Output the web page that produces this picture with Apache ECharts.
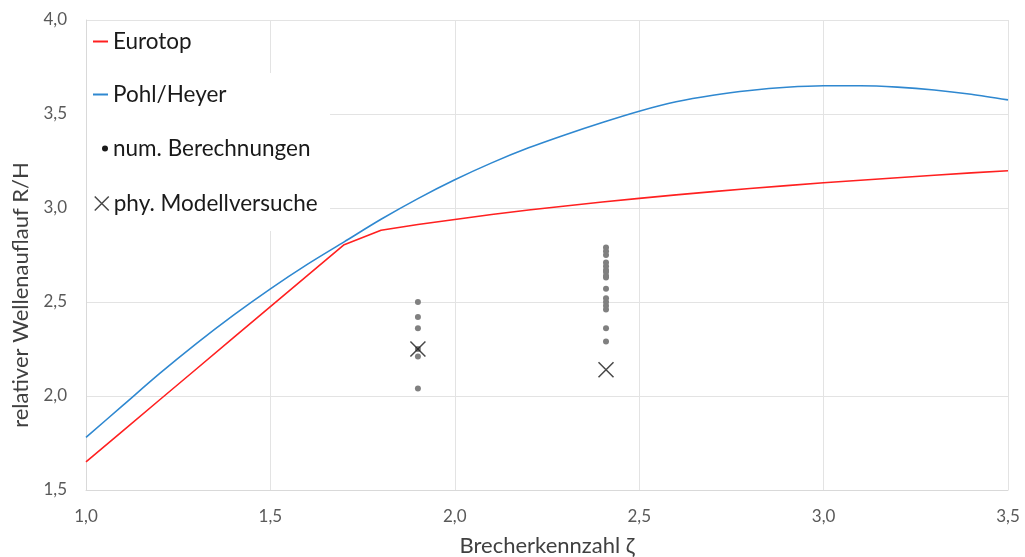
<!DOCTYPE html>
<html>
<head>
<meta charset="utf-8">
<script src="https://cdn.jsdelivr.net/npm/echarts@6/dist/echarts.min.js"></script>
<style>
html,body{margin:0;padding:0;background:#fff;}
#chart{width:1025px;height:557px;}
</style>
</head>
<body>
<div id="chart"></div>
<script>
// ---- data ----
const xiValues = [1.0,1.1,1.2,1.3,1.4,1.5,1.6,1.7,1.8,1.9,2.0,2.1,2.2,2.3,2.4,2.5,2.6,2.7,2.8,2.9,3.0,3.1,3.2,3.3,3.4,3.5];
const eurotop = [1.65,1.815,1.98,2.145,2.31,2.475,2.64,2.805,2.882,2.912,2.939,2.965,2.989,3.011,3.032,3.051,3.070,3.087,3.104,3.119,3.134,3.148,3.161,3.174,3.187,3.198];
const pohlHeyer = [1.78,1.95,2.12,2.28,2.43,2.57,2.70,2.82,2.94,3.05,3.15,3.24,3.32,3.39,3.455,3.515,3.565,3.60,3.625,3.642,3.65,3.65,3.643,3.628,3.605,3.575];
const numX = [1.9,1.9,1.9,1.9,1.9,1.9,
              2.41,2.41,2.41,2.41,2.41,2.41,2.41,2.41,2.41,2.41,2.41,2.41,2.41,2.41,2.41,2.41];
const numY = [2.50,2.42,2.36,2.25,2.21,2.04,
              2.79,2.77,2.75,2.71,2.69,2.67,2.66,2.64,2.63,2.57,2.52,2.50,2.48,2.46,2.36,2.29];
const modX = [1.9,2.41];
const modY = [2.25,2.14];
const xTicks = ['1,0','1,5','2,0','2,5','3,0','3,5'];
const seriesNames = ['Eurotop','Pohl/Heyer','num. Berechnungen','phy. Modellversuche'];

const FONT = 'Lato, "Open Sans", sans-serif';
const crossPath = 'path://M0,0L10,10M0,10L10,0';
const pair = (xs, ys) => xs.map((x, i) => [x, ys[i]]);
const fmt = v => v.toFixed(1).replace('.', ',');

const legendText = {fontFamily: FONT, fontSize: 22.5, color: '#1a1a1a'};
function legendFor(name, left, top, w, h, icon, style) {
  const item = {name: name};
  if (icon) item.icon = icon;
  if (style) item.itemStyle = style;
  return {
    data: [item], left: left, top: top, orient: 'vertical', padding: 0,
    itemWidth: w, itemHeight: h, textStyle: legendText, selectedMode: false
  };
}

const chart = echarts.init(document.getElementById('chart'));
chart.setOption({
  animation: false,
  backgroundColor: '#ffffff',
  grid: {left: 86, right: 17, top: 20, bottom: 67, containLabel: false, outerBoundsMode: 'none'},
  graphic: [{
    type: 'rect', z: 1, silent: true,
    shape: {x: 87, y: 73, width: 243, height: 158},
    style: {fill: '#ffffff'}
  }],
  legend: [
    legendFor(seriesNames[0], 93, 30, 15, 2, 'rect', {color: '#ff2020'}),
    legendFor(seriesNames[1], 93, 83, 15, 2, 'rect', {color: '#2f88d0'}),
    legendFor(seriesNames[2], 102, 137, 6, 6, 'circle', {color: '#1a1a1a'}),
    legendFor(seriesNames[3], 94, 192, 14, 14, crossPath, {color: 'transparent', borderColor: '#1a1a1a', borderWidth: 1.5})
  ],
  xAxis: {
    type: 'value', min: 1.0, max: 3.5, interval: 0.5,
    name: 'Brecherkennzahl ζ', nameLocation: 'middle', nameGap: 45,
    nameTextStyle: {fontFamily: FONT, fontSize: 22, color: '#404040'},
    axisLine: {show: true, lineStyle: {color: '#d9d9d9', width: 1}},
    axisTick: {show: false},
    axisLabel: {fontFamily: FONT, fontSize: 17, color: '#595959', margin: 18,
      formatter: v => xTicks[Math.round((v - 1.0) / 0.5)] || fmt(v)},
    splitLine: {show: true, lineStyle: {color: '#e3e3e3', width: 1}}
  },
  yAxis: {
    type: 'value', min: 1.5, max: 4.0, interval: 0.5,
    name: 'relativer Wellenauflauf R/H', nameLocation: 'middle', nameGap: 54,
    nameTextStyle: {fontFamily: FONT, fontSize: 22, color: '#404040', padding: [0, 80, 0, 0]},
    axisLine: {show: true, lineStyle: {color: '#d9d9d9', width: 1}},
    axisTick: {show: false},
    axisLabel: {fontFamily: FONT, fontSize: 17, color: '#595959', margin: 19, formatter: fmt},
    splitLine: {show: true, lineStyle: {color: '#e3e3e3', width: 1}}
  },
  series: [
    {name: seriesNames[0], type: 'line', data: pair(xiValues, eurotop), symbol: 'none',
     lineStyle: {color: '#ff2020', width: 1.6}, itemStyle: {color: '#ff2020'}, z: 3},
    {name: seriesNames[1], type: 'line', data: pair(xiValues, pohlHeyer), symbol: 'none', smooth: 0.3,
     lineStyle: {color: '#2f88d0', width: 1.6}, itemStyle: {color: '#2f88d0'}, z: 3},
    {name: seriesNames[2], type: 'scatter', data: pair(numX, numY), symbol: 'circle', symbolSize: 6,
     itemStyle: {color: '#808080', opacity: 1}, z: 4},
    {name: seriesNames[3], type: 'scatter', data: pair(modX, modY), symbol: crossPath, symbolSize: 15,
     itemStyle: {color: 'transparent', borderColor: '#1a1a1a', borderWidth: 1.5}, z: 5}
  ]
});
</script>
</body>
</html>
